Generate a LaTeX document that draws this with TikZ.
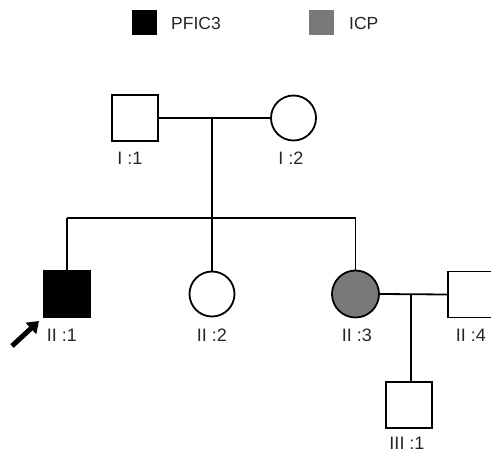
\documentclass[tikz,border=0pt]{standalone}
\usepackage{fontspec}
\setmainfont{Liberation Sans}
\usetikzlibrary{arrows.meta}
\begin{document}
\begin{tikzpicture}[x=1pt,y=-1pt,
  male/.style={draw=black,line width=1.8pt,fill=white,rectangle,minimum size=46pt,inner sep=0pt},
  female/.style={draw=black,line width=1.8pt,fill=white,circle,minimum size=45pt,inner sep=0pt},
  lbl/.style={font=\fontsize{18}{19}\selectfont,text=black!85,inner sep=0pt},
  leg/.style={font=\fontsize{17.5}{19}\selectfont,text=black!85,inner sep=0pt,anchor=west},
  line/.style={line width=1.8pt}]
\clip (0,0) rectangle (491,452);
\fill[white] (0,0) rectangle (491,452);
% legend
\node[rectangle,fill=black,minimum size=25pt,inner sep=0pt] (legA) at (144,23) {};
\node[leg] (legAt) at (171,23) {PFIC3};
\node[rectangle,fill=gray!95!black,minimum size=25pt,inner sep=0pt] (legB) at (321.5,23) {};
\node[leg] (legBt) at (349,23) {ICP};
% generation I
\node[male] (i1) at (135,118) {};
\node[female] (i2) at (293.5,118) {};
\coordinate (m1) at (212,118);
\coordinate (sib) at (212,218);
\draw[line] (i1.east) -- (i2.west);
\draw[line] (m1) -- (sib);
% generation II
\node[male,fill=black] (ii1) at (67,294) {};
\node[female] (ii2) at (212,294) {};
\node[female,fill=gray!95!black,minimum size=47pt] (ii3) at (355.5,294) {};
\node[male] (ii4) at (471,294.5) {};
\coordinate (sL) at (67,218);
\coordinate (sM) at (212,218);
\coordinate (sR) at (355.5,218);
\draw[line] (sL) -- (sR);
\draw[line] (sL) -- (ii1.north);
\draw[line] (sM) -- (ii2.north);
\draw[line] (sR) -- (ii3.north);
\draw[line] (ii3.east) -- (ii4.west);
\coordinate (m2) at (411,294);
% generation III
\node[male] (iii1) at (409,405) {};
\draw[line] (m2) -- (m2 |- iii1.north);
% labels
\node[lbl] (l11) at (130,158) {I :1};
\node[lbl] (l12) at (291,158) {I :2};
\node[lbl] (l21) at (62,335) {II :1};
\node[lbl] (l22) at (212,335) {II :2};
\node[lbl] (l23) at (357,335) {II :3};
\node[lbl] (l24) at (471,335) {II :4};
\node[lbl] (l31) at (407,443) {III :1};
% proband arrow
\coordinate (at) at (12,346);
\coordinate (ah) at (39,321);
\draw[line width=5pt,-{Triangle[length=11pt,width=15pt]}] (at) -- (ah);
\end{tikzpicture}
\end{document}
